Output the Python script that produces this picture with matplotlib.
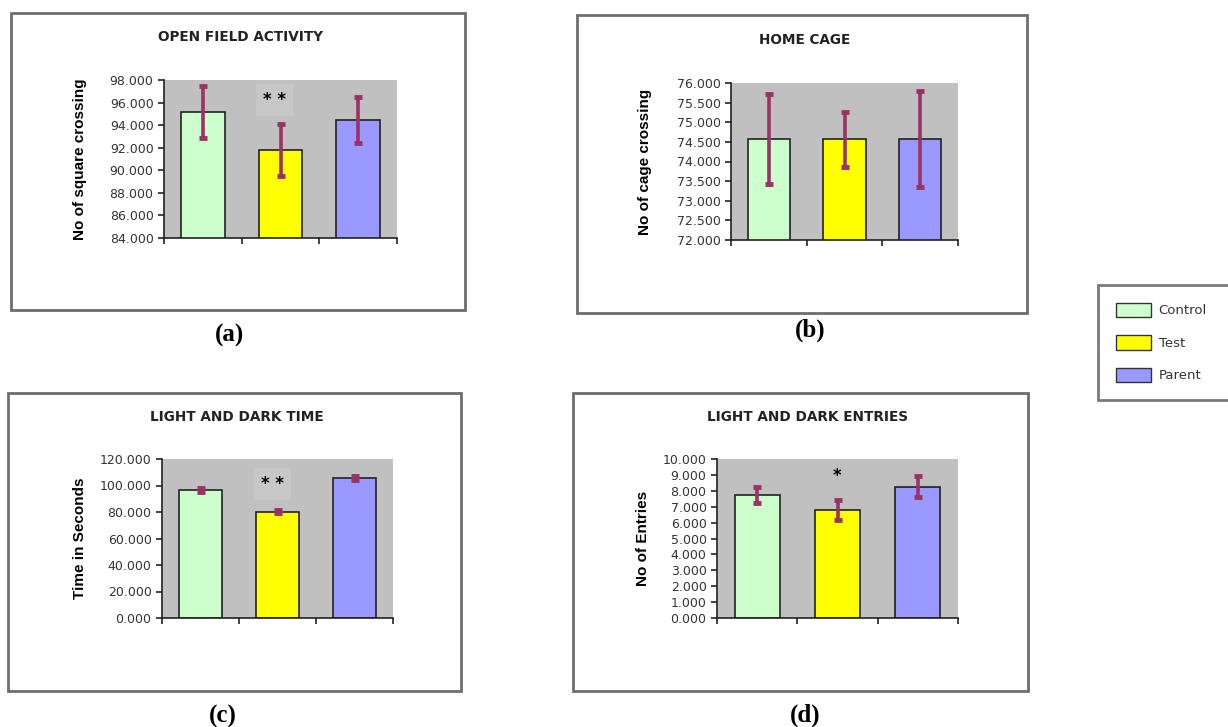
import matplotlib
matplotlib.use("Agg")
import matplotlib.pyplot as plt
from matplotlib.patches import Rectangle, Patch

# data
groups = ["Control", "Test", "Parent"]
colors = ["#CCFFCC", "#FFFF00", "#9999FF"]

open_field = [95.2, 91.8, 94.45]
open_field_err = [2.3, 2.3, 2.0]

home_cage = [74.57, 74.57, 74.57]
home_cage_err = [1.15, 0.7, 1.22]

ld_time = [96.8, 80.3, 105.6]
ld_time_err = [1.4, 1.4, 1.4]

ld_entries = [7.73, 6.8, 8.25]
ld_entries_err = [0.5, 0.62, 0.67]

W, H = 1228, 727
fig = plt.figure(figsize=(W / 100, H / 100), dpi=100)


def fx(px):
    return px / W


def fy(py):
    return 1 - py / H


def panel(box, axbox, title, title_xy, ylabel, lab_x, tag, tag_xy,
          vals, errs, ylim, step, star=None, star_y=None, star_x=1.0, star_bg=False):
    # outer chart frame
    x0, y0, x1, y1 = box
    fig.add_artist(Rectangle((fx(x0), fy(y1)), fx(x1 - x0), (y1 - y0) / H,
                             transform=fig.transFigure, fill=False,
                             edgecolor="#6e6e6e", lw=2.0))
    l, t, r, b = axbox
    ax = fig.add_axes([fx(l), fy(b), fx(r - l), (b - t) / H])
    ax.set_facecolor("#C0C0C0")
    x = range(len(vals))
    ax.bar(x, vals, width=0.56, color=colors, edgecolor="#222222", lw=1.2, zorder=2)
    ax.errorbar(x, vals, yerr=errs, fmt="none", ecolor="#993366", elinewidth=2.6,
                capsize=3, capthick=3.5, zorder=3)
    ax.set_xlim(-0.5, 2.5)
    ax.set_ylim(*ylim)
    n = int(round((ylim[1] - ylim[0]) / step))
    yt = [ylim[0] + i * step for i in range(n + 1)]
    ax.set_yticks(yt)
    ax.set_yticklabels(["%.3f" % v for v in yt], fontsize=9, color="#333333",
                       family="DejaVu Sans")
    ax.set_xticks([-0.5, 0.5, 1.5, 2.5])
    ax.set_xticklabels([])
    ax.tick_params(direction="out", length=4, width=1.2, color="#222222")
    for s in ["top", "right"]:
        ax.spines[s].set_visible(False)
    for s in ["left", "bottom"]:
        ax.spines[s].set_linewidth(1.2)
        ax.spines[s].set_color("#222222")
    ax.set_ylabel(ylabel, fontsize=11, fontweight="bold", family="Liberation Sans")
    ax.yaxis.set_label_coords(lab_x, 0.5)
    if star:
        kw = {}
        if star_bg:
            kw["bbox"] = dict(facecolor="#C7C7C7", edgecolor="none", pad=5)
        ax.text(star_x, star_y, star, ha="center", va="center", fontsize=12,
                fontweight="bold", color="black", zorder=4, **kw)
    fig.text(fx(title_xy[0]), fy(title_xy[1]), title, ha="center", va="center",
             fontsize=9.8, fontweight="bold", color="#222222", family="DejaVu Sans")
    fig.text(fx(tag_xy[0]), fy(tag_xy[1]), tag, ha="center", va="center",
             fontsize=18, fontweight="bold", family="Liberation Serif")
    return ax


panel((11, 13, 465, 310), (164, 80, 397, 238), "OPEN FIELD ACTIVITY", (240, 37),
      "No of square crossing", -0.33, "(a)", (230, 335),
      open_field, open_field_err, (84, 98), 2, "* *", 96.2, 0.92, True)

panel((577, 15, 1027, 313), (731, 83, 958, 240), "HOME CAGE", (805, 40),
      "No of cage crossing", -0.35, "(b)", (810, 330),
      home_cage, home_cage_err, (72, 76), 0.5)

panel((8, 393, 461, 691), (162, 459, 393, 618), "LIGHT AND DARK TIME", (237, 417),
      "Time in Seconds", -0.325, "(c)", (223, 716),
      ld_time, ld_time_err, (0, 120), 20, "* *", 101.3, 0.93, True)

panel((573, 393, 1028, 691), (717, 459, 958, 618), "LIGHT AND DARK ENTRIES", (808, 417),
      "No of Entries", -0.28, "(d)", (805, 715),
      ld_entries, ld_entries_err, (0, 10), 1, "*", 8.9, 1.0)

handles = [Patch(facecolor=c, edgecolor="#333333", lw=1.0) for c in colors]
leg = fig.legend(handles, groups, loc="upper left",
                 bbox_to_anchor=(fx(1098), fy(285), fx(135), 0), mode="expand",
                 fontsize=9.5, handlelength=2.7, handleheight=1.3, labelspacing=1.35,
                 handletextpad=0.55, borderpad=1.35, borderaxespad=0,
                 fancybox=False, framealpha=1)
leg.get_frame().set_edgecolor("#7a7a7a")
leg.get_frame().set_linewidth(2.0)
for t in leg.get_texts():
    t.set_color("#333333")

fig.savefig("out.png", dpi=100)
